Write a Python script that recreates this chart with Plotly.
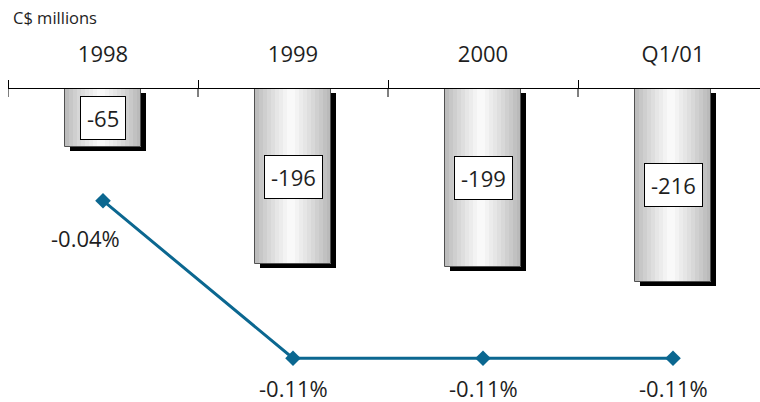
import plotly.graph_objects as go

# Periods, amounts (C$ millions) and ratio (%)
periods = ["1998", "1999", "2000", "Q1/01"]
amounts = [-65, -196, -199, -216]
ratios = [-0.04, -0.11, -0.11, -0.11]

W, H = 760, 402
M_L, M_R, M_T, M_B = 8, 0, 89, 0
plot_w = W - M_L - M_R
plot_h = H - M_T - M_B

cat_px = 190.0                      # pixels per category
x_range = [-0.5, -0.5 + plot_w / cat_px]
px_per_unit = 0.893                 # pixels per C$ million
y_range = [-plot_h / px_per_unit, 0]
y2_range = [-0.12947, 0.00964]      # ratio axis (hidden)

BAR_W = 0.4
FONT = "Open Sans"
TXT = "#1e1e1e"
LINE_COL = "#0b6790"

fig = go.Figure()

# drop shadow behind each bar
sh_dx = 4.5 / cat_px
sh_dy = 4.0 / px_per_unit
fig.add_trace(go.Bar(
    x=periods, y=amounts, base=[-sh_dy] * len(periods),
    width=BAR_W, offset=-BAR_W / 2 + sh_dx,
    marker=dict(color="black", line=dict(width=0)),
    hoverinfo="skip", showlegend=False,
))

# cylinder-like shading: vertical strips from grey to white to grey
N = 19
step = BAR_W / N
def shade(t):
    peak = 0.47
    lo_l, lo_r, hi = 182, 182, 252
    if t <= peak:
        g = lo_l + (hi - lo_l) * (t / peak) ** 0.8
    else:
        g = hi - (hi - lo_r) * ((t - peak) / (1 - peak)) ** 1.1
    g = int(round(g))
    return f"rgb({g},{g},{g})"

for i in range(N):
    t = (i + 0.5) / N
    w = step * (1.6 if i < N - 1 else 1.0)
    fig.add_trace(go.Bar(
        x=periods, y=amounts,
        width=w, offset=-BAR_W / 2 + i * step,
        marker=dict(color=shade(t), line=dict(width=0)),
        hoverinfo="skip", showlegend=False,
    ))

# bar outline
fig.add_trace(go.Bar(
    x=periods, y=amounts,
    width=BAR_W, offset=-BAR_W / 2,
    marker=dict(color="rgba(0,0,0,0)", line=dict(color="#505050", width=1)),
    hoverinfo="skip", showlegend=False,
))

# ratio line
fig.add_trace(go.Scatter(
    x=periods, y=ratios, yaxis="y2", mode="lines+markers",
    line=dict(color=LINE_COL, width=3),
    marker=dict(symbol="diamond", size=12, color=LINE_COL),
    hoverinfo="skip", showlegend=False, cliponaxis=False,
))

annotations = []
# boxed amount labels at bar middles (category index positions)
for i, v in enumerate(amounts):
    annotations.append(dict(
        x=i, y=v / 2, xref="x", yref="y", text=f"{v:.0f}",
        showarrow=False, font=dict(family=FONT, size=22, color=TXT),
        bgcolor="white", bordercolor="black", borderwidth=1, borderpad=6,
    ))
# ratio labels
for i, r in enumerate(ratios):
    xs, ys = (-18, -37) if i == 0 else (0, -30)
    annotations.append(dict(
        x=i, y=r, xref="x", yref="y2", text=f"{r:.2f}%",
        showarrow=False, xshift=xs, yshift=ys,
        font=dict(family=FONT, size=22, color=TXT),
    ))
# unit label
annotations.append(dict(
    x=0, y=1, xref="paper", yref="paper", xanchor="left", yanchor="middle",
    xshift=3, yshift=M_T - 17, text="C$ millions", showarrow=False,
    font=dict(family=FONT, size=16.5, color=TXT),
))

# lower half of the boundary ticks (axis ticks point upward)
shapes = []
for k in range(len(periods)):
    shapes.append(dict(
        type="line", xref="x", yref="paper",
        x0=k - 0.5, x1=k - 0.5, y0=1, y1=1 - 8 / plot_h,
        line=dict(color="black", width=1),
    ))

fig.update_layout(
    width=W, height=H,
    margin=dict(l=M_L, r=M_R, t=M_T, b=M_B, pad=0),
    paper_bgcolor="white", plot_bgcolor="white",
    barmode="overlay", bargap=0,
    font=dict(family=FONT, color=TXT),
    xaxis=dict(
        type="category", range=x_range, side="top",
        showline=True, linecolor="black", linewidth=1,
        ticks="outside", tickson="boundaries", ticklen=8,
        tickcolor="black", tickwidth=1,
        tickfont=dict(family=FONT, size=22, color=TXT),
        ticklabelstandoff=17,
        showgrid=False, zeroline=False, fixedrange=True,
    ),
    yaxis=dict(range=y_range, visible=False, showgrid=False,
               zeroline=False, fixedrange=True),
    yaxis2=dict(range=y2_range, overlaying="y", visible=False,
                showgrid=False, zeroline=False, fixedrange=True),
    annotations=annotations,
    shapes=shapes,
)

fig.write_html("out.html")
